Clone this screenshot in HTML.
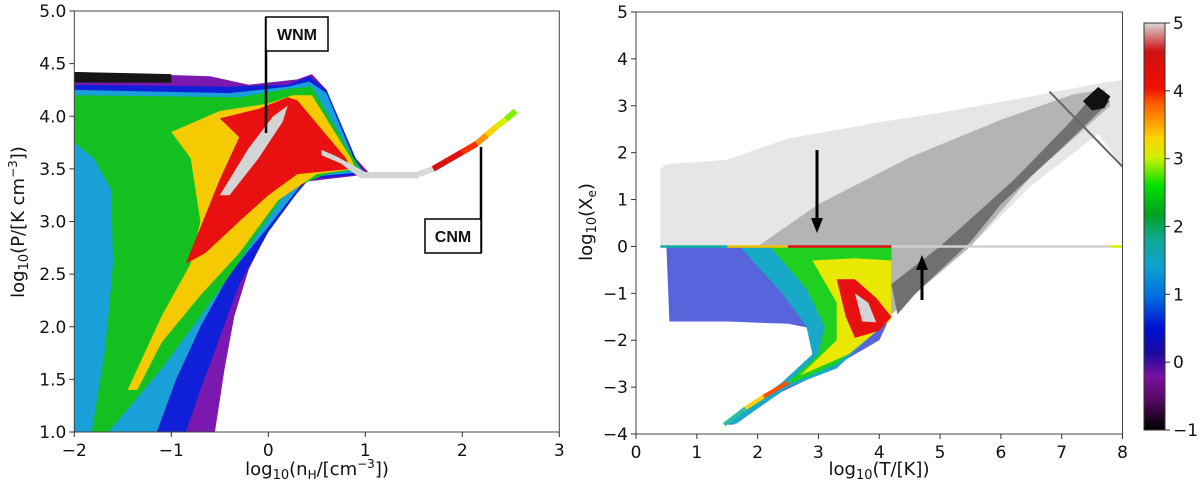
<!DOCTYPE html>
<html><head><meta charset="utf-8"><style>
html,body{margin:0;padding:0;background:#fff}
svg{display:block;font-family:"DejaVu Sans","Liberation Sans",sans-serif}
</style></head><body>
<svg id="fig" width="1200" height="489" viewBox="0 0 1200 489" xmlns="http://www.w3.org/2000/svg">
<defs>
<linearGradient id="cbar" x1="0" y1="1" x2="0" y2="0">
<stop offset="0" stop-color="#000000"/><stop offset="0.08" stop-color="#5a0a6a"/><stop offset="0.13" stop-color="#7a10a0"/>
<stop offset="0.19" stop-color="#1a0aa0"/><stop offset="0.25" stop-color="#0010d0"/><stop offset="0.33" stop-color="#0070e0"/>
<stop offset="0.4" stop-color="#10a0d0"/><stop offset="0.47" stop-color="#10a890"/><stop offset="0.53" stop-color="#00a020"/>
<stop offset="0.6" stop-color="#00e000"/><stop offset="0.67" stop-color="#d0f000"/><stop offset="0.72" stop-color="#ffd000"/>
<stop offset="0.8" stop-color="#ff6000"/><stop offset="0.84" stop-color="#f01000"/><stop offset="0.93" stop-color="#d01010"/>
<stop offset="1" stop-color="#d8d8d8"/></linearGradient>
</defs>
<g id="left"></g>
<g id="right"></g>
<g id="cb">
<rect x="1144" y="23" width="21" height="407" fill="url(#cbar)" stroke="#333" stroke-width="1"/>
</g>
</svg>
<script>
// ---- data (left panel: log n_H vs log P) ----
const leftXTicks=[-2,-1,0,1,2,3];
const leftYTicks=[1.0,1.5,2.0,2.5,3.0,3.5,4.0,4.5,5.0];
const leftPurple=[[-2,4.42],[-0.6,4.38],[-0.2,4.3],[0.3,4.35],[0.45,4.4],[0.6,4.25],[0.9,3.6],[1.05,3.45],[0.4,3.38],[0.05,3.0],[-0.2,2.55],[-0.35,2.1],[-0.45,1.6],[-0.55,1.0],[-2,1.0]];
const leftBlack=[[-2,4.42],[-1.0,4.4],[-1.0,4.32],[-2,4.32]];
const leftBlue=[[-2,4.3],[-0.4,4.28],[0.2,4.3],[0.42,4.38],[0.6,4.25],[0.9,3.6],[1.0,3.45],[0.4,3.4],[0.0,2.9],[-0.3,2.4],[-0.5,1.9],[-0.7,1.4],[-0.85,1.0],[-2,1.0]];
const leftCyan=[[-2,4.25],[-0.4,4.22],[0.2,4.28],[0.42,4.33],[0.6,4.22],[0.88,3.6],[0.98,3.47],[0.4,3.42],[0.0,2.95],[-0.4,2.5],[-0.7,2.0],[-0.95,1.5],[-1.15,1.0],[-2,1.0]];
const leftGreen=[[-2,4.2],[-0.3,4.18],[0.2,4.26],[0.45,4.28],[0.75,3.8],[0.95,3.5],[0.6,3.45],[0.2,3.3],[-0.1,2.9],[-0.35,2.55],[-0.7,2.1],[-1.1,1.6],[-1.65,1.0],[-1.82,1.0],[-1.68,1.8],[-1.6,2.6],[-1.62,3.3],[-1.8,3.6],[-2,3.75]];
const leftYellow=[[-1.45,1.4],[-1.1,2.1],[-0.8,2.6],[-0.7,3.0],[-0.8,3.6],[-1.0,3.85],[-0.5,4.05],[0,4.12],[0.25,4.2],[0.45,4.2],[0.85,3.6],[0.9,3.5],[0.5,3.45],[0.1,3.2],[-0.3,2.7],[-0.7,2.3],[-1.1,1.85],[-1.35,1.4]];
const leftRed=[[-0.85,2.6],[-0.5,3.4],[-0.3,3.8],[-0.5,3.98],[-0.1,4.07],[0.2,4.18],[0.3,4.15],[0.8,3.6],[0.85,3.5],[0.3,3.45],[0,3.25],[-0.3,3.0],[-0.65,2.7]];
const leftGray=[[-0.5,3.25],[-0.2,3.7],[0.05,4.0],[0.2,4.1],[0.15,3.95],[-0.1,3.6],[-0.4,3.25]];
const leftGray2=[[0.55,3.68],[0.7,3.62],[1.0,3.47],[1.55,3.47],[1.55,3.41],[0.95,3.41],[0.75,3.55],[0.55,3.63]];
const cnmX=[1.55,1.7,1.85,2.0,2.15,2.25,2.35,2.45,2.55];
const cnmY=[3.45,3.5,3.58,3.66,3.74,3.82,3.9,3.97,4.05];
const cnmC=["#d8d8d8","#d81010","#e01010","#ff3000","#ff9000","#ffd000","#d8f000","#80f000","#30e000"];
// ---- data (right panel: log T vs log Xe) ----
const rightXTicks=[0,1,2,3,4,5,6,7,8];
const rightYTicks=[-4,-3,-2,-1,0,1,2,3,4,5];
const cbTicks=[-1,0,1,2,3,4,5];
const rGrayLight=[[0.4,0],[0.4,1.65],[0.5,1.75],[1.5,1.85],[2.5,2.3],[4,2.65],[5,2.85],[6.5,3.2],[7.5,3.45],[8,3.55],[8,1.7],[7.6,2.4],[6.5,1.3],[5.5,0],[4.2,-1.45],[4.2,0]];
const rGrayMid=[[2.0,0],[3.0,0.9],[4.5,1.9],[6.0,2.7],[7.2,3.25],[7.7,3.35],[7.8,3.0],[6.5,1.5],[5.5,0],[4.2,-1.45],[4.2,0]];
const rGrayDark=[[4.2,-0.8],[5.0,0],[6.2,1.4],[7.1,2.6],[7.5,3.2],[7.8,3.1],[7.0,2.1],[6.0,0.9],[5.5,0.1],[4.6,-1.0],[4.3,-1.45]];
const rBlack=[[7.35,3.1],[7.6,3.4],[7.8,3.2],[7.7,2.95],[7.5,2.9]];
const rStreak=[[6.8,3.3],[8.0,1.7]];
const rBlue=[[0.5,0],[0.55,-1.6],[1.5,-1.6],[2.5,-1.65],[2.9,-1.75],[3.0,-2.2],[2.8,-2.7],[2.3,-3.0],[1.45,-3.8],[1.6,-3.8],[2.4,-3.1],[3.2,-2.6],[4.0,-2.0],[4.2,-1.45],[4.2,0]];
const rCyan=[[1.7,0],[2.4,-1],[2.8,-1.7],[2.9,-2.3],[2.4,-2.9],[1.5,-3.78],[1.65,-3.78],[2.5,-3.0],[3.3,-2.6],[4.2,-1.5],[4.2,0]];
const rGreen=[[2.2,0],[2.8,-0.9],[3.1,-1.7],[3.0,-2.3],[2.5,-2.9],[2.6,-2.9],[3.3,-2.5],[4.2,-1.5],[4.2,0]];
const rYellow=[[2.9,-0.3],[3.3,-1.2],[3.3,-2.0],[2.7,-2.75],[3.5,-2.3],[4.2,-1.55],[4.2,-0.3],[3.6,-0.25]];
const rRed=[[3.3,-0.7],[3.45,-1.5],[3.6,-1.95],[4.0,-1.8],[4.2,-1.5],[3.95,-1.1],[3.6,-0.7]];
const rGrayBlob=[[3.6,-1.0],[3.72,-1.6],[3.95,-1.62],[3.82,-1.2]];
const lineX=[0.4,1.5,2.5,4.2,7.8,8.0];
const lineC=["#10b0a0","#f0c000","#e01010","#d0d0d0","#d8f000"];
const tailX=[1.45,1.8,2.1,2.5];
const tailY=[-3.8,-3.45,-3.2,-2.9];
const tailC=["#30c0a0","#ffd000","#ff5000"];

// ---- axes ----
const L={x0:74.3,x1:559.3,y0:432,y1:11,dx:[-2,3],dy:[1,5]};
const R={x0:636,x1:1122.5,y0:434,y1:12,dx:[0,8],dy:[-4,5]};
const sx=(A,v)=>A.x0+(v-A.dx[0])/(A.dx[1]-A.dx[0])*(A.x1-A.x0);
const sy=(A,v)=>A.y0+(v-A.dy[0])/(A.dy[1]-A.dy[0])*(A.y1-A.y0);
const NS="http://www.w3.org/2000/svg";
function mk(tag,attrs,parent){const e=document.createElementNS(NS,tag);for(const k in attrs)e.setAttribute(k,attrs[k]);parent.appendChild(e);return e;}
function poly(A,pts,fill,parent,name,op){
  const e=mk("polygon",{points:pts.map(p=>sx(A,p[0]).toFixed(1)+","+sy(A,p[1]).toFixed(1)).join(" "),fill:fill,"fill-opacity":op||1},parent);
  
  
  return e;
}
const gl=document.getElementById("left"), gr=document.getElementById("right"), gcb=document.getElementById("cb");
poly(L,leftPurple,"#7a18b0",gl,"density-purple");
poly(L,leftBlack,"#151515",gl,"density-black");
poly(L,leftBlue,"#1020d8",gl,"density-blue");
poly(L,leftCyan,"#1aa0d8",gl,"density-cyan");
poly(L,leftGreen,"#12c020",gl,"density-green");
poly(L,leftYellow,"#f0e000",gl,"density-yellow");
poly(L,leftYellow,"#ffa000",gl,"density-orange",0.35);
poly(L,leftRed,"#e81010",gl,"density-red");
poly(L,leftGray,"#d4d4d4",gl,"density-peak");
poly(L,leftGray2,"#d4d4d4",gl,"density-peak-2");
for(let i=0;i<cnmX.length-1;i++){
  const e=mk("line",{x1:sx(L,cnmX[i]),y1:sy(L,cnmY[i]),x2:sx(L,cnmX[i+1]),y2:sy(L,cnmY[i+1]),stroke:cnmC[i],"stroke-width":6},gl);
  
  
}
poly(R,rGrayLight,"#e6e6e6",gr,"gray-light");
poly(R,rGrayMid,"#b4b4b4",gr,"gray-mid");
poly(R,rGrayDark,"#707070",gr,"gray-dark");
poly(R,rBlack,"#111",gr,"gray-black");
{const e=mk("line",{x1:sx(R,rStreak[0][0]),y1:sy(R,rStreak[0][1]),x2:sx(R,rStreak[1][0]),y2:sy(R,rStreak[1][1]),stroke:"#666","stroke-width":2},gr);

}
poly(R,rBlue,"#2030d0",gr,"density-blue",0.75);
poly(R,rCyan,"#18a8c8",gr,"density-cyan");
poly(R,rGreen,"#20d020",gr,"density-green");
poly(R,rYellow,"#e8e800",gr,"density-yellow");
poly(R,rRed,"#e81010",gr,"density-red");
poly(R,rGrayBlob,"#d4d4d4",gr,"density-peak");
for(let i=0;i<lineC.length;i++){
  const e=mk("line",{x1:sx(R,lineX[i]),y1:sy(R,0),x2:sx(R,lineX[i+1]),y2:sy(R,0),stroke:lineC[i],"stroke-width":2.5},gr);
  
  
}
for(let i=0;i<tailC.length;i++){
  const e=mk("line",{x1:sx(R,tailX[i]),y1:sy(R,tailY[i]),x2:sx(R,tailX[i+1]),y2:sy(R,tailY[i+1]),stroke:tailC[i],"stroke-width":4},gr);
  
  
}
function frame(A,g,xt,yt,xfmt,yfmt){
  const r=mk("rect",{x:A.x0,y:A.y1,width:A.x1-A.x0,height:A.y0-A.y1,fill:"none",stroke:"#444","stroke-width":1},g);
  
  
  xt.forEach(v=>{const x=sx(A,v);mk("line",{x1:x,y1:A.y0,x2:x,y2:A.y0+5,stroke:"#333"},g);
    const t=mk("text",{x:x,y:A.y0+24,"text-anchor":"middle","font-size":17,fill:"#111"},g);t.textContent=xfmt(v);
    
    });
  yt.forEach(v=>{const y=sy(A,v);mk("line",{x1:A.x0-5,y1:y,x2:A.x0,y2:y,stroke:"#333"},g);
    const t=mk("text",{x:A.x0-8,y:y+6,"text-anchor":"end","font-size":17,fill:"#111"},g);t.textContent=yfmt(v);
    
    });
}
const m=v=>(v<0?"\u2212":"")+Math.abs(v);
frame(L,gl,leftXTicks,leftYTicks,m,v=>v.toFixed(1));
frame(R,gr,rightXTicks,rightYTicks,m,m);
cbTicks.forEach(v=>{const y=430+(v+1)/6*(23-430);mk("line",{x1:1165,y1:y,x2:1170,y2:y,stroke:"#333"},gcb);
  const t=mk("text",{x:1173,y:y+6,"font-size":17,fill:"#111"},gcb);t.textContent=m(v);
  
  });
</script>
<svg width="1200" height="489" style="position:absolute;left:0;top:0" xmlns="http://www.w3.org/2000/svg">
<g font-family="DejaVu Sans, Liberation Sans, sans-serif" fill="#111">
<line x1="266" y1="17" x2="266" y2="133" stroke="#000" stroke-width="2.5"/>
<rect x="266" y="17" width="62" height="34" fill="#fff" stroke="#000" stroke-width="1.5"/>
<text x="297" y="40" text-anchor="middle" font-size="16" font-weight="bold" font-family="Liberation Sans, sans-serif">WNM</text>
<line x1="481" y1="147" x2="481" y2="253" stroke="#000" stroke-width="2.5"/>
<rect x="425" y="219" width="56" height="34" fill="#fff" stroke="#000" stroke-width="1.5"/>
<text x="453" y="242" text-anchor="middle" font-size="16" font-weight="bold" font-family="Liberation Sans, sans-serif">CNM</text>
<line x1="817" y1="150" x2="817" y2="222" stroke="#000" stroke-width="3"/>
<polygon points="811,218 823,218 817,233" fill="#000"/>
<line x1="922" y1="300" x2="922" y2="266" stroke="#000" stroke-width="3"/>
<polygon points="916,270 928,270 922,255" fill="#000"/>
<text x="317" y="475" text-anchor="middle" font-size="18">log<tspan font-size="13" dy="4">10</tspan><tspan dy="-4">(n</tspan><tspan font-size="12" dy="4">H</tspan><tspan dy="-4">/[cm</tspan><tspan font-size="12" dy="-7">−3</tspan><tspan dy="7">])</tspan></text>
<text transform="translate(24,222) rotate(-90)" text-anchor="middle" font-size="18">log<tspan font-size="13" dy="4">10</tspan><tspan dy="-4">(P/[K cm</tspan><tspan font-size="12" dy="-7">−3</tspan><tspan dy="7">])</tspan></text>
<text x="879" y="475" text-anchor="middle" font-size="18">log<tspan font-size="13" dy="4">10</tspan><tspan dy="-4">(T/[K])</tspan></text>
<text transform="translate(592,222) rotate(-90)" text-anchor="middle" font-size="18">log<tspan font-size="13" dy="4">10</tspan><tspan dy="-4">(X</tspan><tspan font-size="12" dy="4">e</tspan><tspan dy="-4">)</tspan></text>
</g>
</svg>
</body></html>
